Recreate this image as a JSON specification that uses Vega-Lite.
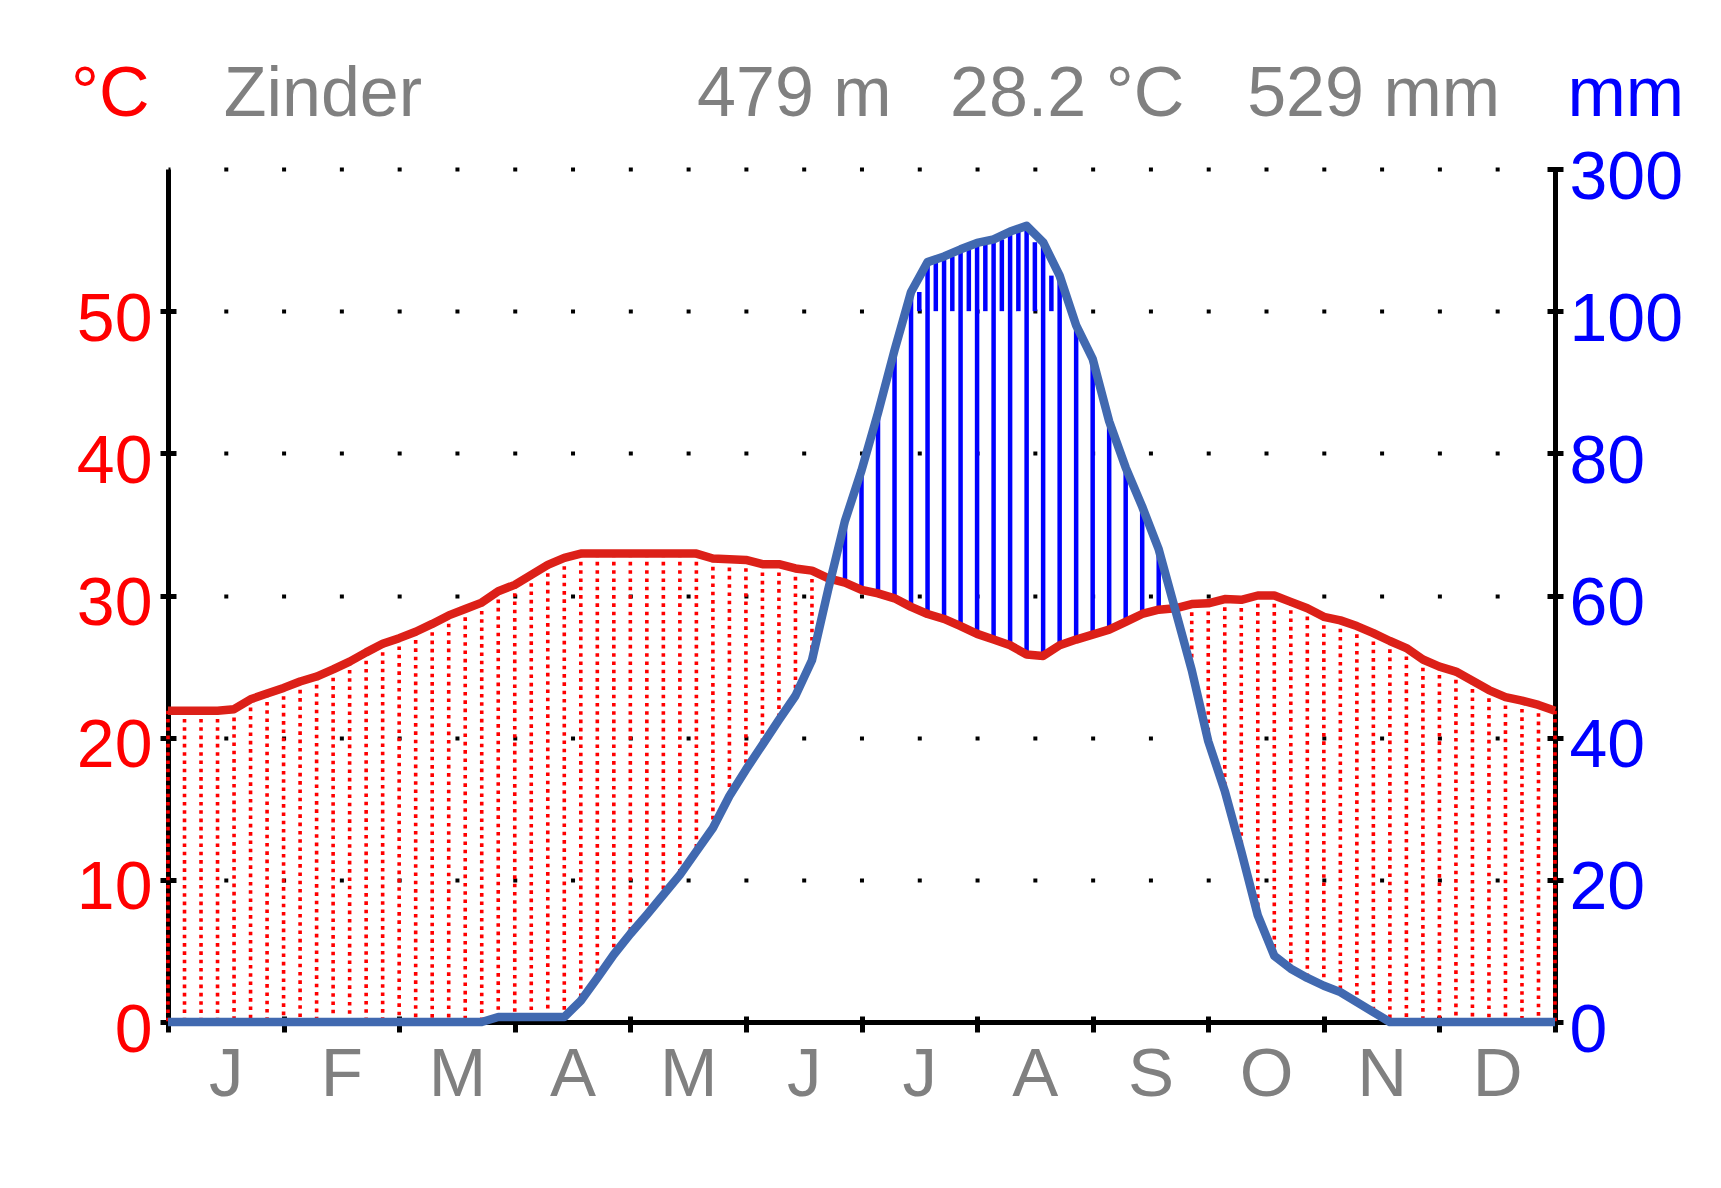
{
  "$schema": "https://vega.github.io/schema/vega-lite/v6.json",
  "width": 1387,
  "height": 853,
  "autosize": {"type": "none"},
  "padding": {"left": 168, "top": 169, "right": 166, "bottom": 166},
  "background": "white",
  "config": {"view": {"stroke": null}, "font": "Liberation Sans", "axis": {"labelFont": "Liberation Sans"}, "text": {"font": "Liberation Sans"}},
  "data": {"values": [
    {"step":0,"t":21.9,"p":0},{"step":1,"t":21.9,"p":0},{"step":2,"t":21.9,"p":0},{"step":3,"t":21.9,"p":0},
    {"step":4,"t":22.0,"p":0},{"step":5,"t":22.7,"p":0},{"step":6,"t":23.1,"p":0},{"step":7,"t":23.5,"p":0},
    {"step":8,"t":23.95,"p":0},{"step":9,"t":24.3,"p":0},{"step":10,"t":24.8,"p":0},{"step":11,"t":25.35,"p":0},
    {"step":12,"t":26.0,"p":0},{"step":13,"t":26.6,"p":0},{"step":14,"t":27.0,"p":0},{"step":15,"t":27.45,"p":0},
    {"step":16,"t":28.0,"p":0},{"step":17,"t":28.6,"p":0},{"step":18,"t":29.05,"p":0},{"step":19,"t":29.5,"p":0},
    {"step":20,"t":30.3,"p":0.7},{"step":21,"t":30.75,"p":0.7},{"step":22,"t":31.45,"p":0.7},{"step":23,"t":32.15,"p":0.7},
    {"step":24,"t":32.65,"p":0.7},{"step":25,"t":32.95,"p":3.0},{"step":26,"t":32.95,"p":6.2},{"step":27,"t":32.95,"p":9.5},
    {"step":28,"t":32.95,"p":12.4},{"step":29,"t":32.95,"p":15.1},{"step":30,"t":32.95,"p":17.9},{"step":31,"t":32.95,"p":20.7},
    {"step":32,"t":32.95,"p":24.0},{"step":33,"t":32.6,"p":27.3},{"step":34,"t":32.55,"p":31.8},{"step":35,"t":32.5,"p":35.5},
    {"step":36,"t":32.2,"p":39.0},{"step":37,"t":32.2,"p":42.5},{"step":38,"t":31.9,"p":45.9},{"step":39,"t":31.75,"p":50.9},
    {"step":40,"t":31.2,"p":61},{"step":41,"t":30.9,"p":70.5},{"step":42,"t":30.4,"p":77.6},{"step":43,"t":30.15,"p":85.7},
    {"step":44,"t":29.8,"p":94.5},{"step":45,"t":29.2,"p":127},{"step":46,"t":28.7,"p":169},{"step":47,"t":28.35,"p":177},
    {"step":48,"t":27.85,"p":187},{"step":49,"t":27.3,"p":196},{"step":50,"t":26.9,"p":201},{"step":51,"t":26.5,"p":212},
    {"step":52,"t":25.85,"p":220},{"step":53,"t":25.75,"p":197},{"step":54,"t":26.5,"p":150},{"step":55,"t":26.9,"p":98},
    {"step":56,"t":27.25,"p":93.3},{"step":57,"t":27.6,"p":84.5},{"step":58,"t":28.15,"p":78},{"step":59,"t":28.7,"p":72.5},
    {"step":60,"t":29.0,"p":66.5},{"step":61,"t":29.1,"p":58},{"step":62,"t":29.4,"p":49.5},{"step":63,"t":29.45,"p":39.5},
    {"step":64,"t":29.75,"p":32.5},{"step":65,"t":29.7,"p":24},{"step":66,"t":30.0,"p":15},{"step":67,"t":30.0,"p":9.3},
    {"step":68,"t":29.55,"p":7.5},{"step":69,"t":29.1,"p":6.2},{"step":70,"t":28.5,"p":5.1},{"step":71,"t":28.25,"p":4.2},
    {"step":72,"t":27.85,"p":2.8},{"step":73,"t":27.35,"p":1.4},{"step":74,"t":26.8,"p":0},{"step":75,"t":26.3,"p":0},
    {"step":76,"t":25.5,"p":0},{"step":77,"t":25.0,"p":0},{"step":78,"t":24.65,"p":0},{"step":79,"t":24.0,"p":0},
    {"step":80,"t":23.35,"p":0},{"step":81,"t":22.85,"p":0},{"step":82,"t":22.6,"p":0},{"step":83,"t":22.3,"p":0},
    {"step":84,"t":21.9,"p":0}
  ]},
  "transform": [
    {"calculate": "datum.p <= 100 ? datum.p / 2 : 50 + (datum.p - 100) / 20", "as": "eq"}
  ],
  "resolve": {"axis": {"x": "independent", "y": "independent"}},
  "layer": [
    {
      "transform": [{"filter": "datum.t > datum.eq"}],
      "mark": {"type": "rule", "color": "#ff0000", "strokeWidth": 3.6, "strokeDash": [3.6, 4.7]},
      "encoding": {
        "x": {"field": "step", "type": "quantitative", "scale": {"domain": [0, 84], "nice": false, "zero": false},
          "axis": {"orient": "bottom", "values": [3.5,10.5,17.5,24.5,31.5,38.5,45.5,52.5,59.5,66.5,73.5,80.5], "ticks": false, "tickSize": 0, "domain": true, "domainWidth": 5, "domainColor": "#000000", "grid": false, "labelColor": "#808080", "labelFontSize": 69, "labelPadding": 73, "labelBaseline": "alphabetic", "labelFlush": false, "labelOverlap": false, "labelBound": false, "labelExpr": "['J','F','M','A','M','J','J','A','S','O','N','D'][floor(datum.value / 7)]", "title": null}},
        "y": {"field": "t", "type": "quantitative", "scale": {"domain": [0, 60], "nice": false},
          "axis": {"orient": "left", "values": [0,10,20,30,40,50], "offset": -8, "tickSize": 16, "tickWidth": 5, "tickColor": "#000000", "domain": false, "grid": false, "labelColor": "#ff0000", "labelFontSize": 68, "labelPadding": 8, "labelBaseline": "alphabetic", "labelOffset": 29, "labelFlush": false, "labelOverlap": false, "labelBound": false, "title": null}},
        "y2": {"field": "eq"}
      }
    },
    {
      "transform": [{"filter": "datum.eq > datum.t"}],
      "mark": {"type": "rule", "color": "#0000ff", "strokeWidth": 4.5},
      "encoding": {
        "x": {"field": "step", "type": "quantitative", "scale": {"domain": [0, 84], "nice": false, "zero": false},
          "axis": {"orient": "bottom", "values": [0,7,14,21,28,35,42,49,56,63,70,77,84], "offset": -6, "tickSize": 16, "tickWidth": 5, "tickColor": "#000000", "labels": false, "domain": false, "grid": false, "title": null}},
        "y": {"field": "t", "type": "quantitative", "scale": {"domain": [0, 60], "nice": false},
          "axis": {"orient": "right", "values": [0,10,20,30,40,50,60], "offset": -8, "tickSize": 16, "tickWidth": 5, "tickColor": "#000000", "domain": false, "grid": false, "labelColor": "#0000ff", "labelFontSize": 68, "labelPadding": 6, "labelBaseline": "alphabetic", "labelOffset": 29, "labelFlush": false, "labelOverlap": false, "labelBound": false, "labelExpr": "datum.value == 60 ? '300' : format(datum.value * 2, 'd')", "title": null}},
        "y2": {"field": "eq"}
      }
    },
    {
      "transform": [
        {"window": [{"op": "lead", "field": "eq", "as": "eqNext"}], "sort": [{"field": "step", "order": "ascending"}]},
        {"filter": "datum.eqNext != null"},
        {"calculate": "min(datum.eq, datum.eqNext)", "as": "top"},
        {"calculate": "50", "as": "base"},
        {"filter": "datum.top > 50"}
      ],
      "mark": {"type": "rule", "color": "#0000ff", "strokeWidth": 4.5, "xOffset": 8.25},
      "encoding": {
        "x": {"field": "step", "type": "quantitative", "scale": {"domain": [0, 84], "nice": false, "zero": false}, "axis": null},
        "y": {"field": "top", "type": "quantitative", "scale": {"domain": [0, 60], "nice": false}, "axis": null},
        "y2": {"field": "base"}
      }
    },
    {
      "mark": {"type": "line", "color": "#dc2018", "strokeWidth": 8.5, "strokeJoin": "round"},
      "encoding": {
        "x": {"field": "step", "type": "quantitative", "scale": {"domain": [0, 84], "nice": false, "zero": false}, "axis": null},
        "y": {"field": "t", "type": "quantitative", "scale": {"domain": [0, 60], "nice": false},
          "axis": {"orient": "left", "values": [10,20,30,40,50,60], "grid": true, "gridColor": "#000000", "gridOpacity": 1, "gridWidth": 4, "gridDash": [4, 53.79], "gridDashOffset": 2, "ticks": false, "labels": false, "domain": true, "domainWidth": 5, "domainColor": "#000000", "title": null}}
      }
    },
    {
      "mark": {"type": "line", "color": "#4169b0", "strokeWidth": 8.5, "strokeJoin": "round"},
      "encoding": {
        "x": {"field": "step", "type": "quantitative", "scale": {"domain": [0, 84], "nice": false, "zero": false}, "axis": null},
        "y": {"field": "eq", "type": "quantitative", "scale": {"domain": [0, 60], "nice": false},
          "axis": {"orient": "right", "values": [0,60], "ticks": false, "labels": false, "grid": false, "domain": true, "domainWidth": 5, "domainColor": "#000000", "title": null}}
      }
    },
    {
      "data": {"values": [{"label": "°C"}]},
      "mark": {"type": "text", "align": "left", "baseline": "alphabetic", "fontSize": 70, "color": "#ff0000"},
      "encoding": {
        "x": {"datum": -5.87, "type": "quantitative", "scale": {"domain": [0, 84], "nice": false, "zero": false}, "axis": null},
        "y": {"datum": 63.73, "type": "quantitative", "scale": {"domain": [0, 60], "nice": false}, "axis": null},
        "text": {"field": "label"}
      }
    },
    {
      "data": {"values": [{"label": "Zinder"}]},
      "mark": {"type": "text", "align": "left", "baseline": "alphabetic", "fontSize": 70, "color": "#808080"},
      "encoding": {
        "x": {"datum": 3.37, "type": "quantitative", "scale": {"domain": [0, 84], "nice": false, "zero": false}, "axis": null},
        "y": {"datum": 63.73, "type": "quantitative", "scale": {"domain": [0, 60], "nice": false}, "axis": null},
        "text": {"field": "label"}
      }
    },
    {
      "data": {"values": [{"label": "479 m"}]},
      "mark": {"type": "text", "align": "left", "baseline": "alphabetic", "fontSize": 70, "color": "#808080"},
      "encoding": {
        "x": {"datum": 32.04, "type": "quantitative", "scale": {"domain": [0, 84], "nice": false, "zero": false}, "axis": null},
        "y": {"datum": 63.73, "type": "quantitative", "scale": {"domain": [0, 60], "nice": false}, "axis": null},
        "text": {"field": "label"}
      }
    },
    {
      "data": {"values": [{"label": "28.2 °C"}]},
      "mark": {"type": "text", "align": "left", "baseline": "alphabetic", "fontSize": 70, "color": "#808080"},
      "encoding": {
        "x": {"datum": 47.36, "type": "quantitative", "scale": {"domain": [0, 84], "nice": false, "zero": false}, "axis": null},
        "y": {"datum": 63.73, "type": "quantitative", "scale": {"domain": [0, 60], "nice": false}, "axis": null},
        "text": {"field": "label"}
      }
    },
    {
      "data": {"values": [{"label": "529 mm"}]},
      "mark": {"type": "text", "align": "right", "baseline": "alphabetic", "fontSize": 70, "color": "#808080"},
      "encoding": {
        "x": {"datum": 80.67, "type": "quantitative", "scale": {"domain": [0, 84], "nice": false, "zero": false}, "axis": null},
        "y": {"datum": 63.73, "type": "quantitative", "scale": {"domain": [0, 60], "nice": false}, "axis": null},
        "text": {"field": "label"}
      }
    },
    {
      "data": {"values": [{"label": "mm"}]},
      "mark": {"type": "text", "align": "left", "baseline": "alphabetic", "fontSize": 70, "color": "#0000ff"},
      "encoding": {
        "x": {"datum": 84.75, "type": "quantitative", "scale": {"domain": [0, 84], "nice": false, "zero": false}, "axis": null},
        "y": {"datum": 63.73, "type": "quantitative", "scale": {"domain": [0, 60], "nice": false}, "axis": null},
        "text": {"field": "label"}
      }
    }
  ]
}
